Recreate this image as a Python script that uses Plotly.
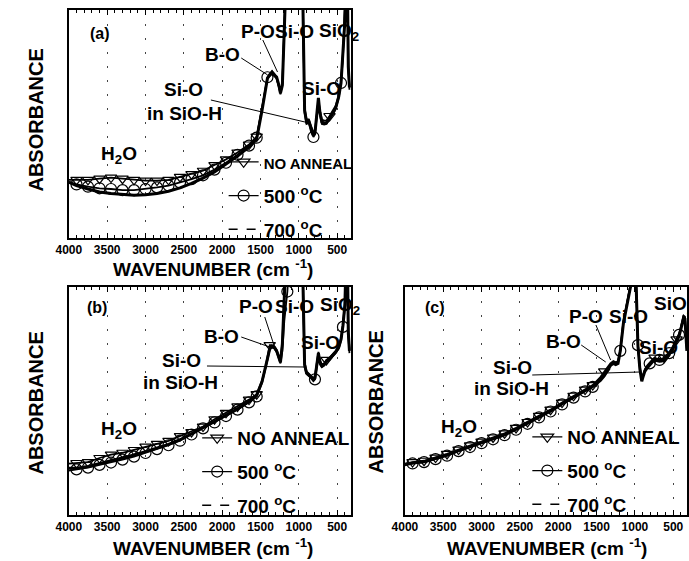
import plotly.graph_objects as go

W, H = 689, 561

# ---------------- data ----------------
TICKS = [4000, 3500, 3000, 2500, 2000, 1500, 1000, 500]
NAMES = ["NO ANNEAL", "500 <sup>o</sup>C", "700 <sup>o</sup>C"]

# panel (a)
WN_A = [4000, 3900, 3750, 3600, 3450, 3300, 3150, 3000, 2850, 2700,
        2550, 2400, 2250, 2100, 1950, 1800, 1650, 1550, 1480, 1440,
        1410, 1380, 1350, 1320, 1290, 1260, 1240, 1215, 1190, 1150,
        1080, 1000, 960, 940, 925, 900, 870, 840, 810, 790,
        765, 745, 725, 700, 670, 640, 600, 560, 520, 480,
        450, 425, 400, 385, 370, 355, 340]
NOANNEAL_A = [25.5, 25.5, 25.5, 26, 26.5, 26, 25.5, 25.2, 25.2, 25.5,
              26.8, 28, 29.5, 32, 34.5, 37.5, 41, 44.5, 56.5, 64.5,
              70, 71, 72, 71, 70, 66.5, 64, 67.5, 89, 131,
              140, 140, 129, 79, 57, 52, 52, 49, 46.5, 47,
              55.5, 60.5, 56, 52, 51.5, 51.5, 53.5, 55.5, 58, 62.5,
              69, 81, 96, 121, 125, 74, 65]
C500_A = [24.5, 23.5, 22.5, 21.8, 21.5, 21, 21, 21.5, 22.2, 23,
          24.3, 25.8, 27.5, 30, 33, 36.5, 40.5, 44, 57, 65,
          70.5, 72, 73, 72, 70, 66, 63, 68, 90, 132,
          140, 140, 128, 78, 55, 50, 50.5, 46.5, 44.3, 45.5,
          54, 60, 54, 50, 49.8, 50, 52, 54, 56.5, 61.5,
          68, 79, 94, 118, 124, 76, 67]
C700_A = [24.5, 23, 21.5, 20.2, 19.5, 19, 18.8, 19, 19.5, 20.5,
          22, 24, 26.3, 29, 32.5, 36, 40, 43.5, 56, 64,
          70, 71.5, 72.8, 71.5, 70.6, 67, 63.5, 67, 88, 130,
          140, 140, 130, 80, 56, 51, 51.3, 48, 45, 46,
          55, 61.4, 55, 50.9, 50.4, 50.5, 52.6, 54.5, 57, 62,
          68, 80, 95, 120, 125, 75, 66]

# panel (b)
WN_B = [4000, 3900, 3750, 3600, 3450, 3300, 3150, 3000, 2850, 2700,
        2550, 2400, 2250, 2100, 1950, 1800, 1650, 1550, 1480, 1440,
        1410, 1380, 1350, 1320, 1290, 1260, 1240, 1215, 1190, 1150,
        1080, 1000, 960, 940, 925, 900, 870, 840, 810, 790,
        765, 745, 725, 700, 670, 640, 600, 560, 520, 480,
        450, 425, 400, 385, 370, 355, 340]
NOANNEAL_B = [22.5, 22.8, 23.2, 25, 26.5, 27.3, 28.5, 30, 31.2, 32.5,
              34.6, 36.4, 38.8, 42, 44.8, 47.6, 50.6, 53, 59, 64,
              69.5, 74.5, 74.5, 74, 72.5, 69.5, 67.5, 76, 96, 129,
              140, 140, 126, 91, 67, 63, 62, 61, 60, 61,
              67, 71.5, 68, 66, 66.5, 68, 69, 70.5, 72, 74,
              77.5, 83.5, 93, 111, 125, 81, 73]
C500_B = [19.5, 20, 20.8, 22, 23, 24.3, 25.6, 27.2, 28.9, 30.6,
          32.6, 35.3, 38, 40.6, 43.4, 46.2, 49.4, 52, 58, 63,
          68, 72.5, 73.5, 73, 71.5, 68.5, 66.5, 72, 85, 98,
          135, 140, 124, 88, 65, 61.8, 61, 60, 58.8, 59.5,
          65, 70, 66, 64.8, 65.5, 67, 68, 69.5, 71, 73,
          76.5, 82.5, 91, 108, 124, 79, 71]
C700_B = [20.5, 20.5, 21.3, 22.5, 23.8, 25, 26.3, 27.8, 29.4, 31,
          33, 35.6, 38.2, 41, 43.8, 46.6, 49.8, 52.5, 58.5, 63.5,
          68.5, 73, 74, 73.5, 72, 69, 67, 75, 95, 128,
          140, 140, 125, 90, 66, 62.3, 61.5, 60.5, 59.2, 60,
          66, 71, 67, 65.4, 66, 67.5, 68.5, 70, 71.5, 73.5,
          77, 83, 92, 110, 125, 80, 72]

# panel (c)
WN_C = [4000, 3900, 3750, 3600, 3450, 3300, 3150, 3000, 2850, 2700,
        2550, 2400, 2250, 2100, 1950, 1800, 1650, 1550, 1450, 1400,
        1360, 1320, 1280, 1250, 1220, 1190, 1150, 1090, 1040, 1005,
        975, 960, 935, 910, 890, 870, 840, 807, 775, 743,
        710, 680, 650, 616, 585, 552, 520, 488, 456, 424,
        400, 386, 365, 347, 335, 322]
NOANNEAL_C = [22.5, 23.2, 23.8, 25.2, 26.8, 28.7, 30.5, 32.2, 34, 35.8,
              38.2, 40.8, 43.5, 46.2, 49.3, 52.3, 55, 57, 60.5, 63,
              64.5, 66.5, 67.5, 67, 67.5, 72.5, 85, 95, 104, 126,
              91, 75, 65, 59.5, 62, 64, 65.5, 67, 68, 69,
              68.5, 68.5, 68.5, 69, 70, 71.5, 73, 75, 77, 79.5,
              82.5, 85, 87.5, 87, 81, 73]
C500_C = [22.2, 22.6, 23.2, 24.5, 26, 28, 29.8, 31.5, 33.2, 35,
          37.4, 40, 42.8, 45.4, 48.5, 51.5, 54.2, 56.2, 59.5, 62,
          64, 66, 67, 66.5, 67, 72, 84.5, 95, 104, 126,
          91, 74.5, 64.5, 59, 61.5, 63.5, 65, 66.5, 67.5, 68.5,
          68, 68, 68, 68.5, 69.5, 71, 72.5, 74.5, 76.5, 79,
          82, 84.5, 87, 86.5, 80.5, 72.5]
C700_C = [22, 22.8, 23.4, 24.7, 26.3, 28.2, 30, 31.7, 33.4, 35.2,
          37.6, 40.3, 43, 45.6, 48.8, 51.8, 54.5, 56.4, 59, 61,
          63, 65.5, 66.5, 66, 66.5, 72, 84, 94, 103, 125,
          90, 74, 64, 58.6, 61, 63, 64.5, 66, 67, 68,
          67.5, 67.4, 67.5, 68, 69, 70.5, 72, 74, 76, 78.4,
          81.5, 84, 86.5, 86, 80, 72]

# wavenumbers where symbols are drawn (style choice)
MARK_BASE = [3900, 3750, 3600, 3450, 3300, 3150, 3000, 2850, 2700, 2550,
             2400, 2250, 2100, 1950, 1800, 1650, 1550]

FONT = "Arial, Liberation Sans, sans-serif"


def px(x):
    return x / W


def py(y):
    return 1 - y / H


panels = [
    dict(xa="x", ya="y", leg="legend", wn=WN_A,
         ys=[NOANNEAL_A, C500_A, C700_A],
         marks=[MARK_BASE + [600], MARK_BASE + [1410, 810, 450], []],
         names=["<span style='font-size:15px'>NO ANNEAL</span>", NAMES[1], NAMES[2]]),
    dict(xa="x2", ya="y2", leg="legend2", wn=WN_B,
         ys=[NOANNEAL_B, C500_B, C700_B],
         marks=[MARK_BASE + [1380, 640], MARK_BASE + [1150, 790, 425], []],
         names=NAMES),
    dict(xa="x3", ya="y3", leg="legend3", wn=WN_C,
         ys=[NOANNEAL_C, C500_C, C700_C],
         marks=[MARK_BASE + [1400, 743, 616, 456],
                MARK_BASE + [1190, 960, 807, 680, 552, 424], []],
         names=NAMES),
]

SYMS = ["triangle-down-open", "circle-open", None]
LW = [1.8, 1.8, 3.0]
MS = [10, 11, 0]

fig = go.Figure()
for p in panels:
    # lines (700 first so it lies underneath)
    for k in [2, 1, 0]:
        fig.add_trace(go.Scatter(
            x=p["wn"], y=p["ys"][k], mode="lines", xaxis=p["xa"], yaxis=p["ya"],
            line=dict(color="black", width=LW[k]), showlegend=False, hoverinfo="skip"))
    # symbols
    for k in [0, 1]:
        mx = [w for w in p["wn"] if w in p["marks"][k]]
        my = [v for w, v in zip(p["wn"], p["ys"][k]) if w in p["marks"][k]]
        fig.add_trace(go.Scatter(
            x=mx, y=my, mode="markers", xaxis=p["xa"], yaxis=p["ya"],
            marker=dict(symbol=SYMS[k], size=MS[k], color="black", line=dict(width=1.2)),
            showlegend=False, hoverinfo="skip", cliponaxis=False))
    # legend entries
    for k in range(3):
        if SYMS[k]:
            fig.add_trace(go.Scatter(
                x=[None], y=[None], mode="lines+markers", name=p["names"][k],
                xaxis=p["xa"], yaxis=p["ya"], legend=p["leg"], legendgroup=p["leg"] + str(k),
                line=dict(color="black", width=1.2),
                marker=dict(symbol=SYMS[k], size=11, color="black", line=dict(width=1.2))))
        else:
            fig.add_trace(go.Scatter(
                x=[None], y=[None], mode="lines", name=p["names"][k],
                xaxis=p["xa"], yaxis=p["ya"], legend=p["leg"], legendgroup=p["leg"] + str(k),
                line=dict(color="black", width=1.5, dash="dash")))

xdom_left = [px(57), px(345)]
xdom_right = [px(400), px(688)]
ydom_top = [py(238), py(10)]
ydom_bot = [py(515), py(287)]


def xax(dom, anchor):
    return dict(domain=dom, anchor=anchor, range=[4000, 320],
                tickmode="array", tickvals=TICKS, ticktext=[str(t) for t in TICKS],
                tickfont=dict(family=FONT, size=12, color="black", weight="bold"),
                ticks="inside", ticklen=5, tickwidth=1, tickcolor="black",
                minor=dict(dtick=100, tick0=0, ticks="inside", ticklen=3,
                           tickcolor="black", showgrid=False),
                showline=True, linecolor="black", linewidth=1.5, mirror="ticks",
                showgrid=True, gridcolor="#444", griddash="2px,12px", gridwidth=1,
                zeroline=False)


def yax(dom, anchor):
    return dict(domain=dom, anchor=anchor, range=[0, 100], showticklabels=False,
                ticks="", showline=True, linecolor="black", linewidth=1.5,
                mirror=True, showgrid=False, zeroline=False)


def legend_cfg(x, ytop):
    return dict(x=px(x), y=py(ytop), xanchor="left", yanchor="top",
                bgcolor="rgba(0,0,0,0)", borderwidth=0,
                font=dict(family=FONT, size=19, color="black", weight="bold"),
                traceorder="grouped", tracegroupgap=6, itemwidth=30)


annotations = []
shapes = []


def ann(text, x, y, size=19, xanchor="center", angle=0):
    annotations.append(dict(text=text, x=px(x), y=py(y), xref="paper", yref="paper",
                            xanchor=xanchor, yanchor="middle", showarrow=False,
                            textangle=angle,
                            font=dict(family=FONT, size=size, color="black", weight="bold")))


def seg(x0, y0, x1, y1):
    shapes.append(dict(type="line", xref="paper", yref="paper",
                       x0=px(x0), y0=py(y0), x1=px(x1), y1=py(y1),
                       line=dict(color="black", width=1)))


LABELS = [
    dict(tag="(a)", t=(89, 33), po=(250, 32), sio=(287, 32), sio2=(310, 32), bo=(214, 55),
         sior=(315, 88), siol=(174, 90), inh=(175, 113), h2o=(108, 155),
         l_bo=(233, 58, 260, 75), l_po=(255, 40, 270, 72), l_oh=(202, 100, 298, 122),
         ytitle=(23, 120), xtitle=(204, 268)),
    dict(tag="(b)", t=(86, 307), po=(248, 306), sio=(287, 306), sio2=(311, 306), bo=(213, 336),
         sior=(314, 342), siol=(172, 360), inh=(171, 382), h2o=(108, 430),
         l_bo=(233, 337, 265, 348), l_po=(257, 317, 267, 347), l_oh=(198, 366, 298, 367),
         ytitle=(23, 403), xtitle=(204, 547)),
    dict(tag="(c)", t=(431, 307), po=(585, 316), sio=(628, 316), sio2=(652, 305), bo=(562, 341),
         sior=(659, 347), siol=(510, 367), inh=(509, 388), h2o=(455, 428),
         l_bo=(580, 345, 605, 362), l_po=(595, 325, 610, 360), l_oh=(530, 375, 640, 372),
         ytitle=(371, 402), xtitle=(545, 547)),
]

for L in LABELS:
    ann(L["tag"], *L["t"], size=16)
    ann("P-O", *L["po"])
    ann("Si-O", *L["sio"])
    ann("SiO<sub>2</sub>", *L["sio2"], xanchor="left")
    ann("B-O", *L["bo"])
    ann("Si-O", *L["sior"])
    ann("Si-O", *L["siol"])
    ann("in SiO-H", *L["inh"])
    ann("H<sub>2</sub>O", *L["h2o"])
    ann("ABSORBANCE", *L["ytitle"], size=20, angle=-90)
    ann("WAVENUMBER (cm <sup>-1</sup>)", *L["xtitle"], size=19)
    seg(*L["l_bo"])
    seg(*L["l_po"])
    seg(*L["l_oh"])

fig.update_layout(
    width=W, height=H, margin=dict(l=0, r=0, t=0, b=0),
    paper_bgcolor="white", plot_bgcolor="white",
    xaxis=xax(xdom_left, "y"), yaxis=yax(ydom_top, "x"),
    xaxis2=xax(xdom_left, "y2"), yaxis2=yax(ydom_bot, "x2"),
    xaxis3=xax(xdom_right, "y3"), yaxis3=yax(ydom_bot, "x3"),
    legend=legend_cfg(215, 143),
    legend2=legend_cfg(188, 419),
    legend3=legend_cfg(525, 418),
    annotations=annotations, shapes=shapes,
    font=dict(family=FONT, color="black"),
)

fig.write_html("out.html")
